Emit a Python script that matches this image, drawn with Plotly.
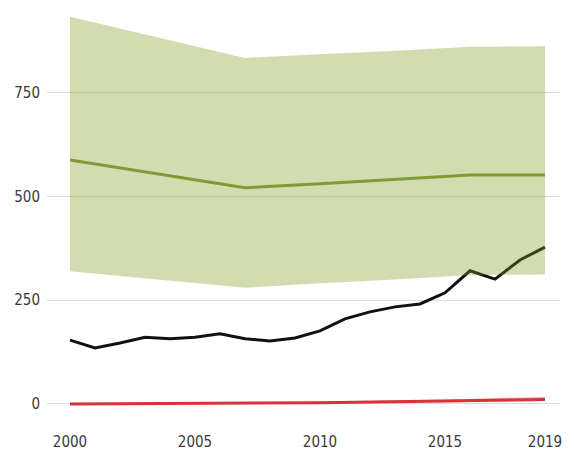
import plotly.graph_objects as go

years = list(range(2000, 2020))
black_vals = [154, 135, 147, 161, 157, 161, 169, 157, 152, 159,
              176, 205, 222, 234, 241, 268, 321, 301, 347, 378]

band_years = [2000, 2007, 2010, 2013, 2016, 2019]
green_mid = [588, 521, 531, 541, 552, 552]
green_upper = [933, 834, 843, 851, 861, 862]
green_lower = [320, 280, 291, 300, 311, 312]

red_years = [2000, 2005, 2010, 2015, 2019]
red_mid = [0, 1, 3, 7, 11]
red_upper = [2, 3, 6, 11, 17]
red_lower = [-1, 0, 1, 4, 7]

fig = go.Figure()
fig.add_trace(go.Scatter(x=years, y=black_vals, mode="lines",
                         line=dict(color="#111111", width=3), showlegend=False))
fig.add_trace(go.Scatter(x=band_years, y=green_upper, mode="lines", line=dict(width=0),
                         showlegend=False, hoverinfo="skip"))
fig.add_trace(go.Scatter(x=band_years, y=green_lower, mode="lines", line=dict(width=0),
                         fill="tonexty", fillcolor="rgba(129,155,29,0.35)", showlegend=False, hoverinfo="skip"))
fig.add_trace(go.Scatter(x=band_years, y=green_mid, mode="lines",
                         line=dict(color="#7f9c32", width=3), showlegend=False))
fig.add_trace(go.Scatter(x=red_years, y=red_upper, mode="lines", line=dict(width=0),
                         showlegend=False, hoverinfo="skip"))
fig.add_trace(go.Scatter(x=red_years, y=red_lower, mode="lines", line=dict(width=0),
                         fill="tonexty", fillcolor="rgba(230,90,100,0.45)", showlegend=False, hoverinfo="skip"))
fig.add_trace(go.Scatter(x=red_years, y=red_mid, mode="lines",
                         line=dict(color="#d8323c", width=3), showlegend=False))

fig.update_layout(
    width=558, height=446,
    margin=dict(l=39, r=6, t=3, b=33),
    paper_bgcolor="white", plot_bgcolor="white",
    font=dict(family="DejaVu Sans Condensed, Liberation Sans Narrow, sans-serif", size=15, color="#3a3a3a"),
    showlegend=False,
)
fig.update_xaxes(range=[1999.08, 2019.6], tickvals=[2000, 2005, 2010, 2015, 2019],
                 showgrid=False, zeroline=False, showline=False, ticks="", automargin=False,
                 ticklabelstandoff=10,
                 tickfont=dict(size=15, color="#3a3a3a"))
fig.update_yaxes(range=[-41, 947], tickvals=[0, 250, 500, 750],
                 showgrid=True, gridcolor="#dddddd", gridwidth=1, zeroline=False,
                 showline=False, ticks="", ticklabelstandoff=6, automargin=False,
                 tickfont=dict(size=15, color="#3a3a3a"))

fig.write_html("out.html")
